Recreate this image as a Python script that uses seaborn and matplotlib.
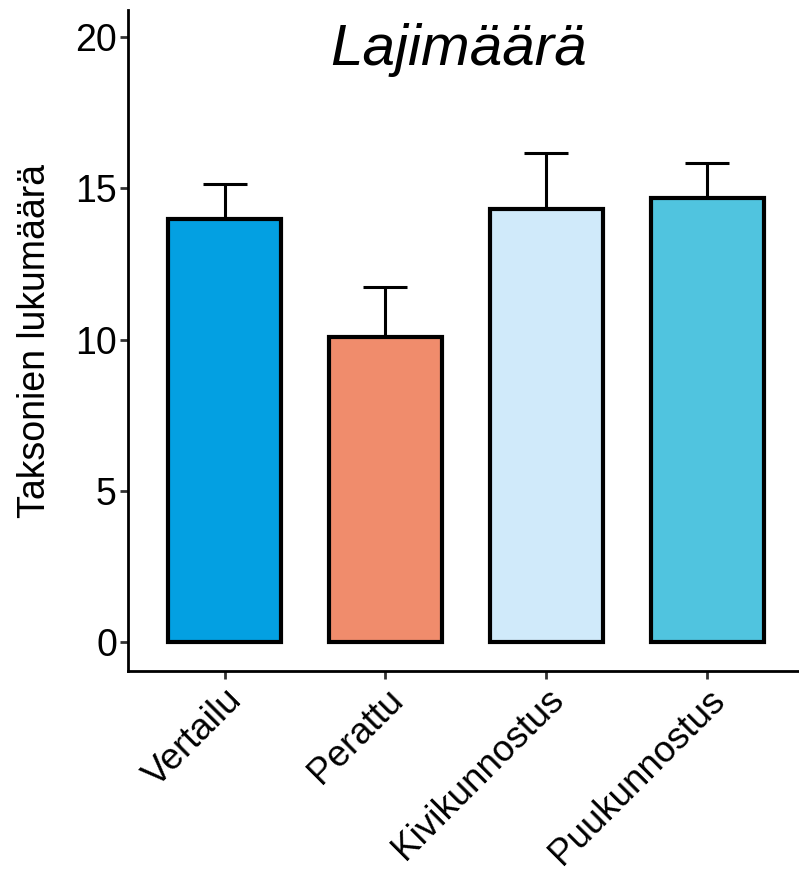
import matplotlib
matplotlib.use("Agg")
import matplotlib.pyplot as plt
import seaborn as sns
import numpy as np
import pandas as pd

categories = ["Vertailu", "Perattu", "Kivikunnostus", "Puukunnostus"]
means = [14.0, 10.08, 14.32, 14.68]
errors = [1.13, 1.67, 1.84, 1.15]
colors = ["#03A0E2", "#F08C6C", "#D0EAFA", "#50C4DF"]
yticks = [0, 5, 10, 15, 20]

sns.set_theme(style="ticks")
plt.rcParams['font.family'] = ['Liberation Sans', 'DejaVu Sans']
plt.rcParams['text.color'] = 'black'
plt.rcParams['axes.labelcolor'] = 'black'
plt.rcParams['xtick.color'] = 'black'
plt.rcParams['ytick.color'] = 'black'

df = pd.DataFrame({"group": categories, "value": means})

fig = plt.figure(figsize=(7.99, 8.72), dpi=100)
ax = fig.add_axes([0.1602, 0.2305, 0.8398, 0.758])

sns.barplot(data=df, x="group", y="value", hue="group", palette=colors,
            order=categories, hue_order=categories, legend=False,
            width=0.7, edgecolor="black", linewidth=3, errorbar=None,
            saturation=1, ax=ax, zorder=3)

pos = np.arange(len(categories))
ax.errorbar(pos, means, yerr=[np.zeros(len(errors)), errors], fmt="none",
            ecolor="black", elinewidth=2.2, capsize=16, capthick=2.2, zorder=2)

ax.set_xlim(-0.6, 3.57)
ax.set_ylim(-0.96, 20.9)
ax.set_yticks(yticks)
ax.set_yticklabels([str(t) for t in yticks], fontsize=27)
ax.set_xticks(pos)
ax.set_xticklabels(categories, fontsize=26.5, rotation=45, ha="right",
                   rotation_mode="anchor")
ax.set_xlabel("")
ax.set_ylabel("Taksonien lukumäärä", fontsize=27, labelpad=16)
ax.tick_params(axis="both", width=2, length=6, color="#333333", pad=2)
for s in ["top", "right"]:
    ax.spines[s].set_visible(False)
for s in ["left", "bottom"]:
    ax.spines[s].set_linewidth(2)
    ax.spines[s].set_color("black")

ax.text(0.493, 0.94, "Lajimäärä", transform=ax.transAxes, ha="center",
        va="center", fontsize=42, style="italic")

fig.savefig("out.png", dpi=100)
